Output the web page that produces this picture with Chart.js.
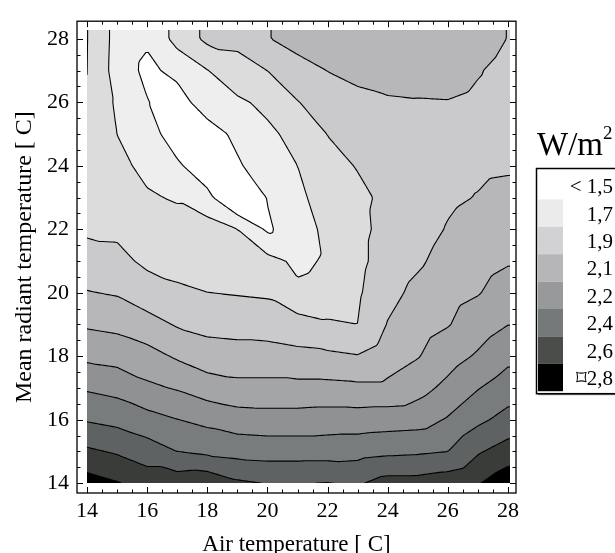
<!DOCTYPE html>
<html>
<head>
<meta charset="utf-8">
<script src="https://cdn.jsdelivr.net/npm/chart.js@4.4.1/dist/chart.umd.min.js"></script>
<style>
  html, body { margin: 0; padding: 0; background: #fff; }
  #wrap { width: 615px; height: 553px; }
</style>
</head>
<body>
<div id="wrap"><canvas id="heatChart" width="615" height="553"></canvas></div>
<script>
// grid of the plot: air temperature (columns) and mean radiant temperature (rows)
const airTemp = [14, 15, 16, 17, 18, 19, 20, 21, 22, 23, 24, 25, 26, 27, 28];
const radiantTemp = [14, 15, 16, 17, 18, 19, 20, 21, 22, 23, 24, 25, 26, 27, 28];

// heat loss W/m2, one row per radiant temperature (14 .. 28), columns = air temperature 14 .. 28
const lossRows = [
    [2.86, 2.81, 2.74, 2.74, 2.76, 2.68, 2.65, 2.65, 2.66, 2.64, 2.71, 2.71, 2.74, 2.79, 2.89],
    [2.68, 2.64, 2.58, 2.51, 2.48, 2.46, 2.45, 2.45, 2.45, 2.46, 2.48, 2.49, 2.51, 2.64, 2.72],
    [2.50, 2.47, 2.42, 2.37, 2.33, 2.29, 2.28, 2.28, 2.29, 2.29, 2.30, 2.31, 2.38, 2.48, 2.56],
    [2.35, 2.32, 2.25, 2.21, 2.15, 2.12, 2.12, 2.12, 2.12, 2.11, 2.11, 2.17, 2.26, 2.36, 2.44],
    [2.19, 2.17, 2.13, 2.06, 2.00, 1.99, 1.99, 1.97, 1.96, 1.94, 2.01, 2.07, 2.16, 2.24, 2.33],
    [2.06, 2.04, 1.99, 1.92, 1.89, 1.88, 1.87, 1.85, 1.81, 1.79, 1.94, 2.02, 2.07, 2.15, 2.22],
    [1.94, 1.92, 1.85, 1.81, 1.79, 1.78, 1.77, 1.67, 1.69, 1.77, 1.89, 1.97, 2.03, 2.07, 2.14],
    [1.847, 1.825, 1.763, 1.746, 1.730, 1.715, 1.688, 1.616, 1.659, 1.753, 1.854, 1.912, 1.985, 2.026, 2.066],
    [1.767, 1.764, 1.711, 1.702, 1.709, 1.645, 1.478, 1.587, 1.673, 1.753, 1.832, 1.876, 1.942, 1.981, 2.016],
    [1.753, 1.724, 1.660, 1.630, 1.543, 1.327, 1.507, 1.616, 1.702, 1.760, 1.818, 1.854, 1.912, 1.938, 1.965],
    [1.746, 1.681, 1.608, 1.525, 1.399, 1.478, 1.594, 1.644, 1.746, 1.796, 1.832, 1.854, 1.897, 1.912, 1.919],
    [1.738, 1.643, 1.572, 1.413, 1.421, 1.540, 1.620, 1.681, 1.792, 1.850, 1.868, 1.876, 1.904, 1.897, 1.890],
    [1.782, 1.621, 1.507, 1.428, 1.588, 1.623, 1.673, 1.783, 1.861, 1.904, 1.919, 1.926, 1.929, 1.912, 1.883],
    [1.790, 1.587, 1.464, 1.543, 1.640, 1.724, 1.790, 1.881, 1.935, 1.962, 1.984, 1.977, 1.977, 1.941, 1.897],
    [1.793, 1.594, 1.522, 1.691, 1.822, 1.832, 1.926, 1.984, 2.042, 2.063, 2.034, 2.013, 2.006, 1.984, 1.930]
];

// contour levels and legend
const levels = [1.5, 1.644, 1.789, 1.933, 2.078, 2.222, 2.367, 2.511, 2.656, 2.8];
const legendLabels = ["< 1,5", "1,7", "1,9", "2,1", "2,2", "2,4", "2,6", "\u23112,8"];
const xTicks = [14, 16, 18, 20, 22, 24, 26, 28];
const yTicks = [14, 16, 18, 20, 22, 24, 26, 28];

// styles
const bandColors = ["#ffffff", "#eeeeee", "#dcdcdc", "#cacacc", "#b7b7ba", "#a4a5a7",
    "#8f9192", "#797c7c", "#5f6262", "#3a3c3a", "#000000"];
const legendColors = ["#ffffff", "#ebebeb", "#d2d2d4", "#b6b6b8", "#98999a", "#76797a", "#4b4d4b", "#000000"];
const serif = "'Liberation Serif', 'Times New Roman', serif";
const xRange = [13.667, 28.266];
const yRange = [13.692, 28.554];
const fillEdge = { x: 28.07, y: 28.28 };

const hexRgb = (h) => [1, 3, 5].map((k) => parseInt(h.slice(k, k + 2), 16));
const bandRgb = bandColors.map(hexRgb);

// linear interpolation on triangles (each grid cell split along its falling diagonal)
const lossAt = (x, y) => {
    const nx = airTemp.length, ny = radiantTemp.length;
    const gx = Math.min(Math.max((x - airTemp[0]) / (airTemp[1] - airTemp[0]), 0), nx - 1);
    const gy = Math.min(Math.max((y - radiantTemp[0]) / (radiantTemp[1] - radiantTemp[0]), 0), ny - 1);
    const i = Math.min(Math.floor(gx), nx - 2);
    const j = Math.min(Math.floor(gy), ny - 2);
    const fx = gx - i, fy = gy - j;
    const f00 = lossRows[j][i], f10 = lossRows[j][i + 1];
    const f01 = lossRows[j + 1][i], f11 = lossRows[j + 1][i + 1];
    if (fx + fy <= 1) return f00 + (f10 - f00) * fx + (f01 - f00) * fy;
    return f11 + (f01 - f11) * (1 - fx) + (f10 - f11) * (1 - fy);
};

const bandOf = (v) => {
    let k = 0;
    while (k < levels.length && v >= levels[k]) k++;
    return k;
};

const contourPlugin = {
    id: "contour",
    beforeDatasetsDraw(chart) {
        const { ctx } = chart;
        const xs = chart.scales.x, ys = chart.scales.y;
        const left = Math.round(xs.getPixelForValue(airTemp[0]));
        const right = Math.round(xs.getPixelForValue(fillEdge.x));
        const top = Math.round(ys.getPixelForValue(fillEdge.y));
        const bottom = Math.round(ys.getPixelForValue(radiantTemp[0]));
        const w = right - left, h = bottom - top;

        const img = ctx.createImageData(w, h);
        for (let py = 0; py < h; py++) {
            const vy = ys.getValueForPixel(top + py + 0.5);
            for (let px = 0; px < w; px++) {
                const vx = xs.getValueForPixel(left + px + 0.5);
                const c = bandRgb[bandOf(lossAt(vx, vy))];
                const o = (py * w + px) * 4;
                img.data[o] = c[0];
                img.data[o + 1] = c[1];
                img.data[o + 2] = c[2];
                img.data[o + 3] = 255;
            }
        }
        ctx.putImageData(img, left, top);

        // contour lines by marching squares on a fine grid
        const nx = 180, ny = 180;
        const gxv = [], gyv = [];
        for (let i = 0; i <= nx; i++) gxv.push(airTemp[0] + (fillEdge.x - airTemp[0]) * i / nx);
        for (let j = 0; j <= ny; j++) gyv.push(radiantTemp[0] + (fillEdge.y - radiantTemp[0]) * j / ny);
        const g = gyv.map((vy) => gxv.map((vx) => lossAt(vx, vy)));
        const P = (vx, vy) => [xs.getPixelForValue(vx), ys.getPixelForValue(vy)];

        ctx.save();
        ctx.beginPath();
        ctx.rect(left, top, w, h);
        ctx.clip();
        ctx.strokeStyle = "#000";
        ctx.lineWidth = 1.1;
        ctx.lineCap = "round";
        levels.forEach((L) => {
            ctx.beginPath();
            for (let j = 0; j < ny; j++) {
                for (let i = 0; i < nx; i++) {
                    const a = g[j][i], b = g[j][i + 1], c = g[j + 1][i + 1], d = g[j + 1][i];
                    const x0 = gxv[i], x1 = gxv[i + 1], y0 = gyv[j], y1 = gyv[j + 1];
                    const pts = [null, null, null, null];
                    if ((a >= L) !== (b >= L)) pts[0] = P(x0 + (x1 - x0) * (L - a) / (b - a), y0);
                    if ((b >= L) !== (c >= L)) pts[1] = P(x1, y0 + (y1 - y0) * (L - b) / (c - b));
                    if ((d >= L) !== (c >= L)) pts[2] = P(x0 + (x1 - x0) * (L - d) / (c - d), y1);
                    if ((a >= L) !== (d >= L)) pts[3] = P(x0, y0 + (y1 - y0) * (L - a) / (d - a));
                    const hit = pts.filter((p) => p);
                    if (hit.length === 2) {
                        ctx.moveTo(hit[0][0], hit[0][1]);
                        ctx.lineTo(hit[1][0], hit[1][1]);
                    } else if (hit.length === 4) {
                        const centre = lossAt((x0 + x1) / 2, (y0 + y1) / 2);
                        const pairs = ((centre >= L) === (a >= L)) ? [[0, 1], [2, 3]] : [[0, 3], [1, 2]];
                        pairs.forEach(([p, q]) => {
                            ctx.moveTo(pts[p][0], pts[p][1]);
                            ctx.lineTo(pts[q][0], pts[q][1]);
                        });
                    }
                }
            }
            ctx.stroke();
        });
        ctx.restore();
    },
    afterDraw(chart) {
        const { ctx, chartArea } = chart;
        const xs = chart.scales.x, ys = chart.scales.y;
        const { left, right, top, bottom } = chartArea;

        // frame with inward ticks on all four sides
        ctx.save();
        ctx.strokeStyle = "#000";
        ctx.lineWidth = 1.3;
        ctx.strokeRect(left, top, right - left, bottom - top);
        ctx.lineWidth = 1;
        ctx.beginPath();
        for (let v = xTicks[0]; v <= xTicks[xTicks.length - 1] + 1e-9; v += 0.5) {
            const len = (v % 2 === 0) ? 6 : 3.5;
            const px = Math.round(xs.getPixelForValue(v)) + 0.5;
            ctx.moveTo(px, bottom); ctx.lineTo(px, bottom - len);
            ctx.moveTo(px, top); ctx.lineTo(px, top + len);
        }
        for (let v = yTicks[0]; v <= yTicks[yTicks.length - 1] + 1e-9; v += 0.5) {
            const len = (v % 2 === 0) ? 6 : 3.5;
            const py = Math.round(ys.getPixelForValue(v)) + 0.5;
            ctx.moveTo(left, py); ctx.lineTo(left + len, py);
            ctx.moveTo(right, py); ctx.lineTo(right - len, py);
        }
        ctx.stroke();

        // legend
        ctx.fillStyle = "#000";
        ctx.textBaseline = "alphabetic";
        ctx.textAlign = "left";
        ctx.font = "33px " + serif;
        ctx.fillText("W/m", 537, 155);
        const wm = ctx.measureText("W/m").width;
        ctx.font = "19px " + serif;
        ctx.fillText("2", 537 + wm, 139);

        const boxL = 536, boxT = 168, rowH = 27.4, rowT = 172;
        const boxB = rowT + rowH * legendLabels.length + 2;
        ctx.fillStyle = "#888";
        ctx.fillRect(boxL + 2, boxB, 100, 2);
        ctx.strokeStyle = "#000";
        ctx.lineWidth = 1.5;
        ctx.strokeRect(boxL + 0.5, boxT + 0.5, 100, boxB - boxT);
        legendLabels.forEach((label, i) => {
            ctx.fillStyle = legendColors[i];
            ctx.fillRect(boxL + 2, rowT + rowH * i, 25, rowH);
            ctx.fillStyle = "#000";
            ctx.font = "21px " + serif;
            ctx.textAlign = "right";
            ctx.textBaseline = "middle";
            ctx.fillText(label, 613, rowT + rowH * i + rowH / 2 + 2);
        });
        ctx.restore();
    }
};

const gridPoints = [];
radiantTemp.forEach((ry, j) => airTemp.forEach((ax, i) => gridPoints.push({ x: ax, y: ry, v: lossRows[j][i] })));

new Chart(document.getElementById("heatChart"), {
    type: "scatter",
    data: { datasets: [{ data: gridPoints, pointRadius: 0, pointHoverRadius: 0 }] },
    options: {
        responsive: false,
        animation: false,
        devicePixelRatio: 1,
        layout: { padding: { top: 10, right: 99, left: 0, bottom: 0 } },
        plugins: { legend: { display: false }, tooltip: { enabled: false } },
        scales: {
            x: {
                type: "linear",
                position: "bottom",
                min: xRange[0],
                max: xRange[1],
                afterBuildTicks: (axis) => { axis.ticks = xTicks.map((v) => ({ value: v })); },
                afterFit: (axis) => { axis.height = 60; },
                grid: { display: false, drawTicks: false },
                border: { display: false },
                ticks: { autoSkip: false, maxRotation: 0, padding: 5, color: "#000", font: { family: serif, size: 22 } },
                title: { display: true, text: "Air temperature [ C]", color: "#000",
                    font: { family: serif, size: 23, lineHeight: 1 }, padding: { top: 0, bottom: -3 } }
            },
            y: {
                type: "linear",
                min: yRange[0],
                max: yRange[1],
                afterBuildTicks: (axis) => { axis.ticks = yTicks.map((v) => ({ value: v })); },
                afterFit: (axis) => { axis.width = 77; },
                grid: { display: false, drawTicks: false },
                border: { display: false },
                ticks: { autoSkip: false, padding: 8, color: "#000", font: { family: serif, size: 22 } },
                title: { display: true, text: "Mean radiant temperature [ C]", color: "#000",
                    font: { family: serif, size: 24, lineHeight: 1 }, padding: { top: 13, bottom: 0 } }
            }
        }
    },
    plugins: [contourPlugin]
});
</script>
</body>
</html>
